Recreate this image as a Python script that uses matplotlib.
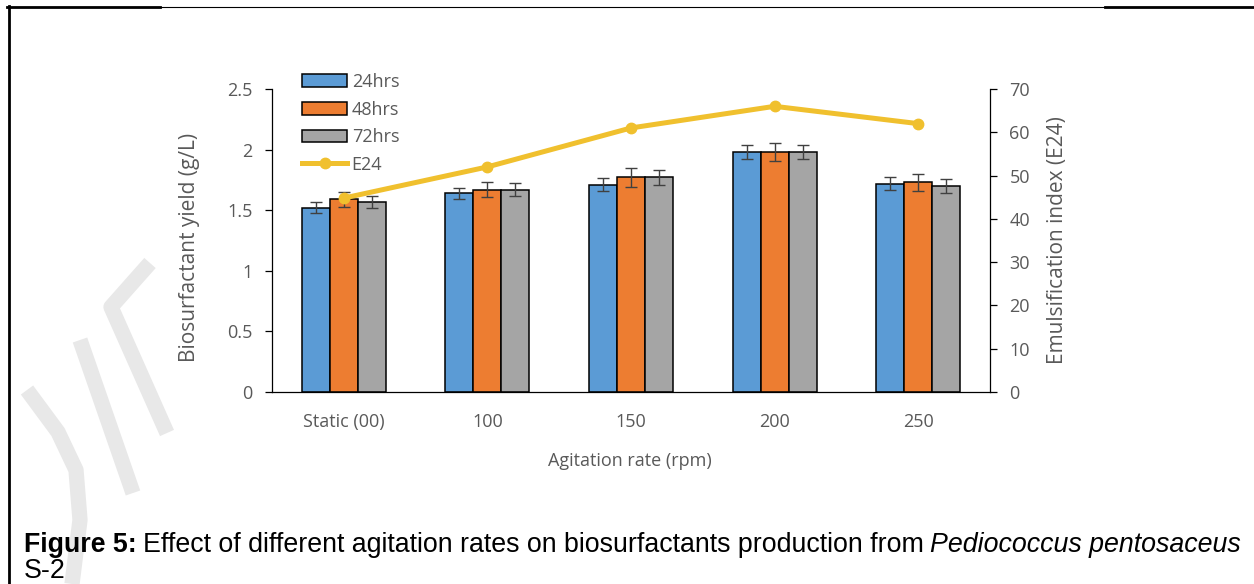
import matplotlib
matplotlib.use('Agg')
import matplotlib.pyplot as plt
import numpy as np
from matplotlib.lines import Line2D

# ---------------- data ----------------
categories = ['Static (00)', '100', '150', '200', '250']
series_names = ['24hrs', '48hrs', '72hrs']
yield_24 = [1.52, 1.64, 1.71, 1.98, 1.72]
yield_48 = [1.59, 1.67, 1.77, 1.98, 1.73]
yield_72 = [1.57, 1.67, 1.77, 1.98, 1.70]
err_24 = [0.045, 0.045, 0.055, 0.055, 0.05]
err_48 = [0.06, 0.06, 0.078, 0.075, 0.072]
err_72 = [0.05, 0.052, 0.06, 0.06, 0.057]
e24 = [44.8, 52, 61, 66, 62]
left_ticks = [0, 0.5, 1, 1.5, 2, 2.5]
left_tick_labels = ['0', '0.5', '1', '1.5', '2', '2.5']
right_ticks = [0, 10, 20, 30, 40, 50, 60, 70]
right_tick_labels = ['0', '10', '20', '30', '40', '50', '60', '70']

# ---------------- style ----------------
W, H = 1254, 584
colors = ['#5B9BD5', '#ED7D31', '#A5A5A5']
line_color = '#F0C02E'
txt_color = '#595959'
chart_font = 'Open Sans'
fs = 13

def fx(px):
    return px / W

def fy(py):
    return 1 - py / H

fig = plt.figure(figsize=(W / 100, H / 100), dpi=100)
fig.patch.set_facecolor('white')

# watermark strokes (light gray)
wm = dict(color='#e8e8e8', lw=11, solid_capstyle='butt', zorder=0)
for pts in [
    [(150, 263), (111, 307), (167, 433)],
    [(80, 340), (133, 493)],
    [(27, 390), (58, 432), (76, 470), (80, 520), (72, 584)],
]:
    xs = [fx(p[0]) for p in pts]
    ys = [fy(p[1]) for p in pts]
    fig.add_artist(Line2D(xs, ys, transform=fig.transFigure, **wm))

# frame lines
fig.add_artist(Line2D([fx(7), fx(1254)], [fy(6.5), fy(6.5)], transform=fig.transFigure,
                      color='black', lw=0.8, zorder=1))
fig.add_artist(Line2D([fx(7), fx(160)], [fy(7), fy(7)], transform=fig.transFigure,
                      color='black', lw=2.0, zorder=1))
fig.add_artist(Line2D([fx(1105), fx(1254)], [fy(7), fy(7)], transform=fig.transFigure,
                      color='black', lw=2.0, zorder=1))
fig.add_artist(Line2D([fx(8.5), fx(8.5)], [fy(6), fy(584)], transform=fig.transFigure,
                      color='black', lw=2.0, zorder=1))

# axes
ax_l, ax_r, ax_t, ax_b = 272, 990, 89, 392
ax = fig.add_axes([fx(ax_l), fy(ax_b), fx(ax_r - ax_l), (ax_b - ax_t) / H])
ax.set_facecolor('none')
x = np.arange(len(categories))
bw = 0.195
offsets = [-bw, 0, bw]
vals = [yield_24, yield_48, yield_72]
errs = [err_24, err_48, err_72]
handles = []
for i in range(3):
    b = ax.bar(x + offsets[i], vals[i], width=bw, color=colors[i], edgecolor='black',
               linewidth=1.1, label=series_names[i], zorder=2,
               yerr=errs[i], capsize=4.2,
               error_kw=dict(ecolor='#404040', elinewidth=1.0, capthick=1.0, zorder=3))
    handles.append(b)

ax.set_xlim(-0.5, len(categories) - 0.5)
ax.set_ylim(0, 2.5)
ax.set_yticks(left_ticks)
ax.set_yticklabels(left_tick_labels)
ax.set_xticks(x)
ax.set_xticklabels(categories)
for s in ['top', 'right']:
    ax.spines[s].set_visible(False)
for s in ['left', 'bottom']:
    ax.spines[s].set_color('black')
    ax.spines[s].set_linewidth(0.9)
ax.tick_params(axis='y', direction='out', length=5, width=0.9, pad=9,
               labelsize=fs, labelcolor=txt_color, color='black')
ax.tick_params(axis='x', length=0, pad=15, labelsize=fs, labelcolor=txt_color)
for lab in ax.get_xticklabels() + ax.get_yticklabels():
    lab.set_fontfamily(chart_font)

ax2 = ax.twinx()
ax2.set_facecolor('none')
ln, = ax2.plot(x, e24, color=line_color, lw=3.6, marker='o', markersize=7.5,
               markerfacecolor=line_color, markeredgecolor=line_color, label='E24', zorder=4)
ax2.set_ylim(0, 70)
ax2.set_yticks(right_ticks)
ax2.set_yticklabels(right_tick_labels)
for s in ['top', 'left', 'bottom']:
    ax2.spines[s].set_visible(False)
ax2.spines['right'].set_color('black')
ax2.spines['right'].set_linewidth(0.9)
ax2.tick_params(axis='y', direction='out', length=5, width=0.9, pad=9,
                labelsize=fs, labelcolor=txt_color, color='black')
for lab in ax2.get_yticklabels():
    lab.set_fontfamily(chart_font)

# axis titles
fig.text(fx(190), fy(247), 'Biosurfactant yield (g/L)', rotation=90, ha='center', va='center',
         fontsize=15, color=txt_color, family=chart_font)
fig.text(fx(1057), fy(240), 'Emulsification index (E24)', rotation=90, ha='center', va='center',
         fontsize=15, color=txt_color, family=chart_font)
fig.text(fx(630), fy(461), 'Agitation rate (rpm)', ha='center', va='center',
         fontsize=fs, color=txt_color, family=chart_font)

# legend
leg = fig.legend(handles=handles + [ln], labels=series_names + ['E24'],
                 loc='upper left', bbox_to_anchor=(fx(302), fy(73)),
                 frameon=False, borderpad=0, borderaxespad=0,
                 handlelength=2.5, handleheight=0.7, handletextpad=0.25,
                 labelspacing=0.53, prop=dict(family=chart_font, size=fs))
for t in leg.get_texts():
    t.set_color(txt_color)

# caption
fig.canvas.draw()
r = fig.canvas.get_renderer()
cap_fs = 19.3
cap_font = 'Liberation Sans'
base_y = fy(552)
t1 = fig.text(fx(24), base_y, 'Figure 5:', fontsize=cap_fs, fontweight='bold',
              family=cap_font, va='baseline', ha='left')
bb = t1.get_window_extent(r)
t2 = fig.text(bb.x1 / W + fx(6), base_y,
              'Effect of different agitation rates on biosurfactants production from',
              fontsize=cap_fs, family=cap_font, va='baseline', ha='left')
bb = t2.get_window_extent(r)
t3 = fig.text(bb.x1 / W + fx(6), base_y, 'Pediococcus pentosaceus',
              fontsize=cap_fs, family=cap_font, style='italic', va='baseline', ha='left')
fig.text(fx(24), fy(578), 'S-2', fontsize=cap_fs, family=cap_font, va='baseline', ha='left')

fig.savefig('out.png', dpi=100)
